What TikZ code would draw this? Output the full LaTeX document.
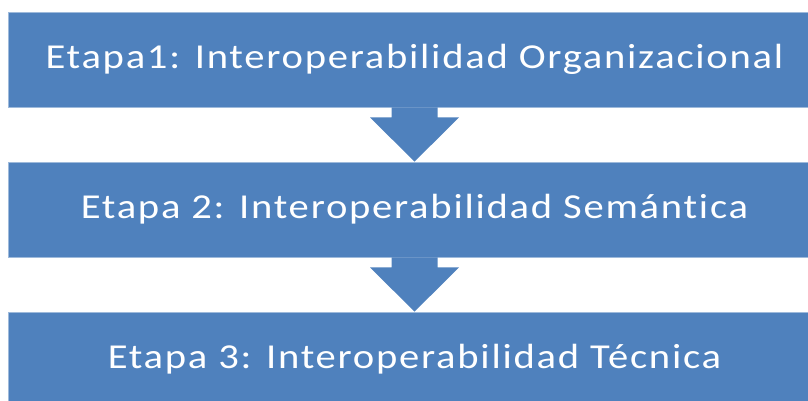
\documentclass[tikz,border=0pt]{standalone}
\usepackage{fontspec}
\setmainfont{Carlito}
\newfontfamily\etapafont[FakeStretch=1.16,LetterSpace=5,Ligatures=NoCommon]{Carlito}
\usetikzlibrary{calc}
\definecolor{etapablue}{RGB}{79,129,189}
\begin{document}
\begin{tikzpicture}[x=1pt,y=-1pt,
  etapa/.style={fill=etapablue, draw=etapablue!55!white, line width=0.6pt, minimum width=813pt, minimum height=95pt, inner sep=0pt, text=white, font=\etapafont\fontsize{35}{40}\selectfont},
  flecha/.style={fill=etapablue}]
\useasboundingbox (0,0) rectangle (808,400);
\clip (0,0) rectangle (808,400);

% Text Node
\node [etapa] (e1) at (414.5,59.5) {Etapa1: Interoperabilidad Organizacional};
% Text Node
\node [etapa] (e2) at (414.5,209.5) {Etapa 2: Interoperabilidad Semántica};
% Text Node
\node [etapa] (e3) at (414.5,359.5) {Etapa 3: Interoperabilidad Técnica};

%Shape: Down Arrow
\fill [flecha] ($(e1.south)+(-23,0)$) -- ++(0,10) -- ++(-21.5,0) -- (e2.north) -- ($(e1.south)+(44.5,10)$) -- ++(-21.5,0) -- ++(0,-10) -- cycle ;
%Shape: Down Arrow
\fill [flecha] ($(e2.south)+(-23,0)$) -- ++(0,10) -- ++(-21.5,0) -- (e3.north) -- ($(e2.south)+(44.5,10)$) -- ++(-21.5,0) -- ++(0,-10) -- cycle ;

\end{tikzpicture}
\end{document}
